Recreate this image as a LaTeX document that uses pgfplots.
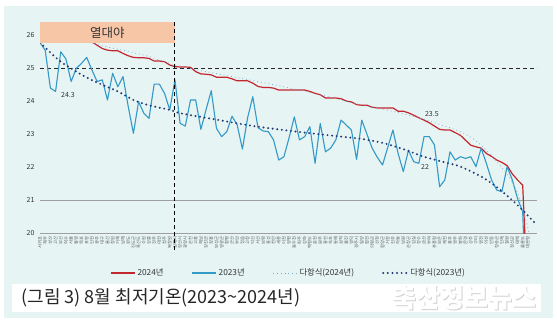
\documentclass[border=0pt]{standalone}
\usepackage{fontspec}
\setmainfont{Noto Sans CJK KR}
\usepackage{pgfplots}
\usepackage{pgfplotstable}
\pgfplotsset{compat=1.18}
\definecolor{bgc}{HTML}{E6F4F4}
\definecolor{red24}{HTML}{C4262E}
\definecolor{blue23}{HTML}{3399C6}
\definecolor{tr24}{HTML}{7FAFC6}
\definecolor{tr23}{HTML}{243A76}
\definecolor{peach}{HTML}{F7C6A6}
\definecolor{txt}{HTML}{333333}

\pgfplotstableread{
i t24 t23
0 26.35 25.78
1 26.30 25.55
2 26.22 24.40
3 26.15 24.30
4 26.10 25.50
5 26.02 25.28
6 25.97 24.60
7 25.92 25.00
8 25.88 25.15
9 25.84 25.33
10 25.80 24.95
11 25.70 24.60
12 25.60 24.65
13 25.55 24.04
14 25.53 24.85
15 25.53 24.44
16 25.45 24.75
17 25.38 23.84
18 25.33 23.03
19 25.32 23.99
20 25.32 23.64
21 25.30 23.48
22 25.22 24.52
23 25.22 24.52
24 25.20 24.24
25 25.10 23.74
26 25.05 24.65
27 25.04 23.33
28 25.04 23.25
29 25.03 24.04
30 24.90 24.04
31 24.83 23.15
32 24.82 23.75
33 24.80 24.32
34 24.73 23.18
35 24.73 22.93
36 24.73 23.08
37 24.68 23.55
38 24.62 23.28
39 24.62 22.55
40 24.62 23.50
41 24.55 24.14
42 24.45 23.20
43 24.42 23.10
44 24.42 23.08
45 24.40 22.83
46 24.34 22.22
47 24.34 22.32
48 24.34 22.90
49 24.34 23.53
50 24.34 22.83
51 24.34 22.93
52 24.30 23.23
53 24.24 22.12
54 24.20 23.33
55 24.10 22.47
56 24.10 22.58
57 24.10 22.83
58 24.08 23.43
59 24.01 23.28
60 23.98 23.13
61 23.90 22.24
62 23.88 23.43
63 23.88 23.00
64 23.82 22.58
65 23.80 22.30
66 23.80 22.07
67 23.80 22.60
68 23.80 23.13
69 23.70 22.42
70 23.70 21.87
71 23.65 22.52
72 23.58 22.17
73 23.50 22.12
74 23.43 22.93
75 23.35 22.93
76 23.25 22.68
77 23.15 21.41
78 23.13 21.62
79 23.13 22.47
80 23.05 22.22
81 22.97 22.32
82 22.82 22.27
83 22.67 22.32
84 22.62 22.02
85 22.58 22.58
86 22.42 22.12
87 22.33 21.62
88 22.22 21.31
89 22.15 21.26
90 22.05 22.02
91 21.80 21.62
92 21.62 21.06
93 21.46 20.65
94 18.00 16.50
}\datatable

\pgfplotstableread{
i v
0 26.25
10 25.76
20 25.40
26 25.10
32 24.90
38 24.72
46 24.47
54 24.20
61 23.92
67 23.73
73 23.50
77 23.30
81 23.08
84 22.80
87.3 22.30
90.6 21.65
92.5 21.02
94.1 20.10
94.8 19.50
}\trendA

\pgfplotstableread{
i v
0 25.78
2 25.48
4 25.20
7 24.90
9 24.72
12 24.50
15 24.30
18 24.04
21 23.88
25 23.74
27 23.64
32 23.50
37 23.36
42 23.23
50 23.07
58 22.93
62 22.86
66 22.74
70 22.55
74 22.32
78 22.15
81 22.02
85 21.72
88 21.40
91 21.00
93 20.70
95.3 20.32
}\trendB

\begin{document}
\begin{tikzpicture}
\fill[white] (0pt,0pt) rectangle (557pt,327pt);
\fill[bgc] (4pt,9pt) rectangle (553pt,321pt);
\coordinate (A) at (40pt,93.7pt);
\begin{axis}[
  at={(A)}, anchor=south west, scale only axis,
  width=497.2pt, height=211.2pt,
  xmin=0, xmax=95.8, ymin=20, ymax=26.4,
  clip mode=individual,
  axis line style={draw=none},
  major tick length=0pt,
  ytick={20,21,22,23,24,25,26},
  yticklabel style={font=\fontsize{7}{8}\selectfont, color=txt, xshift=-2pt},
  /pgf/number format/assume math mode=true,
  xtick={0,...,94},
  xticklabels={서귀포,제주,성산,고산,부산,여수,서울,통영,목포,포항,인천,광주,대구,울산,창원,거제,남해,완도,진도군,흑산도,수원,강릉,전주,대전,청주,북창원,김해시,양산시,광양시,순천,고흥,해남,강진군,장흥,보성군,영광군,함평,군산,부안,정읍,고창,익산,서산,보령,홍성,천안,세종,이천,양평,동두천,파주,강화,백령도,춘천,원주,홍천,속초,동해,삼척,울진,영덕,경주시,밀양,합천,의령군,산청,함양군,거창,진주,하동,남원,순창군,임실,장수,금산,부여,추풍령,보은,제천,충주,영주,봉화,문경,상주,구미,영천,의성,안동,청송군,인제,철원,정선군,태백,울릉도,대관령},
  xticklabel style={rotate=90, anchor=east, font=\fontsize{4.3}{5}\selectfont, color=black!65},
  legend columns=4,
  legend style={at={(axis description cs:0.5,-0.188)}, anchor=center, draw=none, fill=none,
    font=\fontsize{8.3}{9}\selectfont, text=txt,
    /tikz/every even column/.append style={column sep=26pt}},
  legend image code/.code={\draw[#1] (0pt,0pt) -- (24pt,0pt);},
]
\addplot[forget plot, gray!75, line width=0.7pt] coordinates {(0,21) (95.8,21)};
\addplot[forget plot, gray!75, line width=0.7pt] coordinates {(0,20) (95.8,20)};
\addplot[forget plot, black!85, line width=0.8pt, dash pattern=on 4pt off 3pt] coordinates {(0,25) (95.8,25)};

\addplot[red24, line width=1.2pt, line join=round] table[x=i, y=t24] {\datatable};
\addlegendentry{2024년}
\addplot[blue23, line width=1.1pt, line join=round] table[x=i, y=t23] {\datatable};
\addlegendentry{2023년}
\addplot[tr24, line width=0.8pt, dash pattern=on 0.8pt off 3pt, smooth] table[x=i, y=v] {\trendA};
\addlegendentry{다항식(2024년)}
\addplot[tr23, line width=2.2pt, dash pattern=on 0pt off 4.6pt, line cap=round, smooth] table[x=i, y=v] {\trendB};
\addlegendentry{다항식(2023년)}

\fill[peach] (axis cs:0,25.77) rectangle (axis cs:26,26.4);
\node[font=\fontsize{12.5}{14}\selectfont, text=txt] at (axis cs:13,26.09) {열대야};
\draw[black, line width=0.9pt, dash pattern=on 4pt off 3pt] (axis cs:26,26.4) -- (axis cs:26,19.45);
\node[font=\fontsize{7}{8}\selectfont, text=txt] at (axis cs:5.4,24.2) {24.3};
\node[font=\fontsize{7}{8}\selectfont, text=txt] at (axis cs:75.5,23.62) {23.5};
\node[font=\fontsize{7}{8}\selectfont, text=txt] at (axis cs:74.2,22.02) {22};
\end{axis}
\fill[white] (12pt,15pt) rectangle (541pt,43pt);
\node[anchor=west, font=\fontsize{18}{20}\selectfont, text=black!85] at (18pt,29pt) {(그림 3) 8월 최저기온(2023\textasciitilde 2024년)};
\node[anchor=east, font=\bfseries\fontsize{26}{28}\selectfont, text=gray!35] at (541pt,28.2pt) {축산정보뉴스};
\node[anchor=east, font=\bfseries\fontsize{26}{28}\selectfont, text=white] at (540pt,29pt) {축산정보뉴스};
\end{tikzpicture}
\end{document}
